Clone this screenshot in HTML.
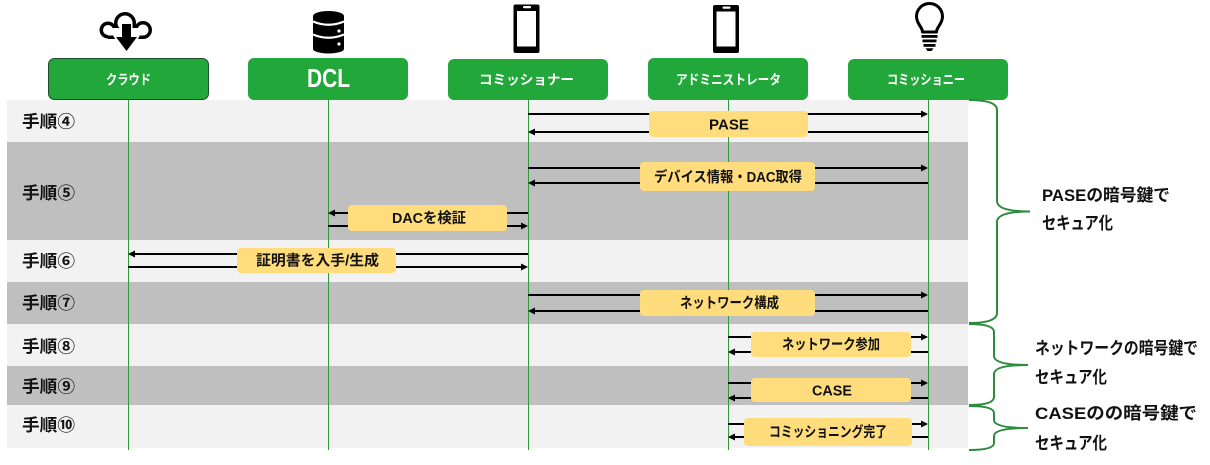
<!DOCTYPE html>
<html><head><meta charset="utf-8">
<style>
html,body{margin:0;padding:0;background:#fff;}
body{width:1210px;height:465px;overflow:hidden;}
svg{display:block;}
text{font-family:"Liberation Sans","Noto Sans CJK JP",sans-serif;font-weight:bold;}
</style></head>
<body>
<svg width="1210" height="465" viewBox="0 0 1210 465" xmlns="http://www.w3.org/2000/svg">
<!-- bands -->
<rect x="7" y="100" width="961" height="42" fill="#f2f2f2"/>
<rect x="7" y="142" width="961" height="98" fill="#bfbfbf"/>
<rect x="7" y="240" width="961" height="42" fill="#f2f2f2"/>
<rect x="7" y="282" width="961" height="42" fill="#bfbfbf"/>
<rect x="7" y="324" width="961" height="42" fill="#f2f2f2"/>
<rect x="7" y="366" width="961" height="39" fill="#bfbfbf"/>
<rect x="7" y="405" width="961" height="43" fill="#f2f2f2"/>

<!-- cloud -->
<g>
<circle cx="108" cy="30" r="8.5" fill="#000"/>
<circle cx="125" cy="23" r="11" fill="#000"/>
<circle cx="143" cy="30" r="9" fill="#000"/>
<rect x="108" y="28" width="35" height="11" fill="#000"/>
<circle cx="108" cy="30" r="5" fill="#fff"/>
<circle cx="125" cy="23" r="7.5" fill="#fff"/>
<circle cx="143" cy="30" r="5.5" fill="#fff"/>
<rect x="108" y="28" width="35" height="7.5" fill="#fff"/>
<path d="M122,23 L131,23 L131,36 L138,36 L126.5,52 L115,36 L122,36 Z" fill="#000" stroke="#fff" stroke-width="3" stroke-linejoin="round"/>
<path d="M122,24 L131,24 L131,37 L137,37 L126.5,51 L116,37 L122,37 Z" fill="#000"/>
</g>
<!-- database -->
<g>
<ellipse cx="328.5" cy="16" rx="15.5" ry="5" fill="#000"/>
<rect x="313" y="16" width="31" height="33" fill="#000"/>
<ellipse cx="328.5" cy="49" rx="15.5" ry="4.5" fill="#000"/>
<path d="M313,21.5 Q328.5,28 344,21.5" stroke="#fff" stroke-width="2.2" fill="none"/>
<path d="M313,34.5 Q328.5,41 344,34.5" stroke="#fff" stroke-width="2.2" fill="none"/>
<circle cx="339" cy="31" r="1.6" fill="#fff"/>
<circle cx="339" cy="44" r="1.6" fill="#fff"/>
</g>
<!-- phones -->
<g>
<rect x="513.5" y="4.5" width="26" height="48.5" rx="2" fill="#000"/>
<rect x="517" y="11" width="19" height="35.5" fill="#fff"/>
<rect x="523" y="6" width="8" height="2.2" rx="1" fill="#fff"/>
</g>
<g>
<rect x="713" y="5" width="26" height="48" rx="2" fill="#000"/>
<rect x="716.5" y="11.5" width="19" height="35" fill="#fff"/>
<rect x="722.5" y="6.5" width="8" height="2.2" rx="1" fill="#fff"/>
</g>
<!-- bulb -->
<g>
<path d="M922.5,32 C922.5,27 916.5,24 916.5,16.5 A13,13 0 0 1 942.5,16.5 C942.5,24 936.5,27 936.5,32 Z" fill="#fff" stroke="#000" stroke-width="3" stroke-linejoin="round"/>
<rect x="921.5" y="35" width="16" height="2.8" fill="#000"/>
<rect x="922.5" y="39.5" width="14" height="2.8" fill="#000"/>
<rect x="923.5" y="44" width="12" height="2.8" fill="#000"/>
<path d="M925.5,48.3 L933.5,48.3 L931.5,51 L927.5,51 Z" fill="#000"/>
</g>

<!-- header boxes -->
<rect x="48.5" y="58.5" width="160" height="41" rx="6" fill="#22a83a" stroke="#1d4d28" stroke-width="1"/>
<rect x="248" y="58" width="160" height="42" rx="6" fill="#22a83a"/>
<rect x="448" y="59" width="160" height="41" rx="6" fill="#22a83a"/>
<rect x="648" y="58" width="160" height="42" rx="6" fill="#22a83a"/>
<rect x="848" y="59" width="160" height="41" rx="6" fill="#22a83a"/>
<g font-size="13.5" fill="#fff">
<text x="106" y="84.5" textLength="45" lengthAdjust="spacingAndGlyphs">クラウド</text>
<text x="479" y="84.5" textLength="95" lengthAdjust="spacingAndGlyphs">コミッショナー</text>
<text x="676" y="84.5" textLength="105" lengthAdjust="spacingAndGlyphs">アドミニストレータ</text>
<text x="887" y="84.5" textLength="78" lengthAdjust="spacingAndGlyphs">コミッショニー</text>
</g>
<text x="307" y="87" font-size="26" fill="#fff" textLength="43" lengthAdjust="spacingAndGlyphs">DCL</text>

<!-- lifelines -->
<g stroke="#2e9a3c" stroke-width="1">
<line x1="128.5" y1="100" x2="128.5" y2="450"/>
<line x1="328.5" y1="100" x2="328.5" y2="450"/>
<line x1="528.5" y1="100" x2="528.5" y2="450"/>
<line x1="728.5" y1="100" x2="728.5" y2="450"/>
<line x1="928.5" y1="100" x2="928.5" y2="450"/>
</g>

<!-- row labels -->
<g font-size="17" fill="#111">
<text x="22" y="127.5" textLength="53" lengthAdjust="spacingAndGlyphs">手順④</text>
<text x="22" y="199" textLength="53" lengthAdjust="spacingAndGlyphs">手順⑤</text>
<text x="22" y="267" textLength="53" lengthAdjust="spacingAndGlyphs">手順⑥</text>
<text x="22" y="309" textLength="53" lengthAdjust="spacingAndGlyphs">手順⑦</text>
<text x="22" y="352.5" textLength="53" lengthAdjust="spacingAndGlyphs">手順⑧</text>
<text x="22" y="392.5" textLength="53" lengthAdjust="spacingAndGlyphs">手順⑨</text>
<text x="22" y="431" textLength="53" lengthAdjust="spacingAndGlyphs">手順⑩</text>
</g>

<!-- arrows -->
<g stroke="#000" stroke-width="2">
<line x1="528" y1="114" x2="922" y2="114"/>
<line x1="928" y1="132" x2="534" y2="132"/>
<line x1="528" y1="168" x2="922" y2="168"/>
<line x1="928" y1="183" x2="534" y2="183"/>
<line x1="528" y1="213" x2="334" y2="213"/>
<line x1="328" y1="226" x2="522" y2="226"/>
<line x1="528" y1="254" x2="134" y2="254"/>
<line x1="128" y1="267" x2="522" y2="267"/>
<line x1="528" y1="295" x2="922" y2="295"/>
<line x1="928" y1="311" x2="534" y2="311"/>
<line x1="728" y1="337" x2="922" y2="337"/>
<line x1="928" y1="352" x2="734" y2="352"/>
<line x1="728" y1="383" x2="922" y2="383"/>
<line x1="928" y1="398" x2="734" y2="398"/>
<line x1="728" y1="424" x2="922" y2="424"/>
<line x1="928" y1="437" x2="734" y2="437"/>
</g>
<g fill="#000">
<path d="M928,114 l-7,-3.5 v7 z"/>
<path d="M928,168 l-7,-3.5 v7 z"/>
<path d="M528,226 l-7,-3.5 v7 z"/>
<path d="M528,267 l-7,-3.5 v7 z"/>
<path d="M928,295 l-7,-3.5 v7 z"/>
<path d="M928,337 l-7,-3.5 v7 z"/>
<path d="M928,383 l-7,-3.5 v7 z"/>
<path d="M928,424 l-7,-3.5 v7 z"/>
<path d="M528,132 l7,-3.5 v7 z"/>
<path d="M528,183 l7,-3.5 v7 z"/>
<path d="M328,213 l7,-3.5 v7 z"/>
<path d="M128,254 l7,-3.5 v7 z"/>
<path d="M528,311 l7,-3.5 v7 z"/>
<path d="M728,352 l7,-3.5 v7 z"/>
<path d="M728,398 l7,-3.5 v7 z"/>
<path d="M728,437 l7,-3.5 v7 z"/>
</g>

<!-- label boxes -->
<g fill="#ffdc7c">
<rect x="649" y="111" width="159" height="26" rx="4"/>
<rect x="640" y="162" width="175" height="29" rx="4"/>
<rect x="348" y="205" width="159" height="26" rx="4"/>
<rect x="237" y="248" width="159" height="25" rx="4"/>
<rect x="640" y="290" width="175" height="26" rx="4"/>
<rect x="751" y="332" width="160" height="25" rx="4"/>
<rect x="751" y="378" width="160" height="24" rx="4"/>
<rect x="744" y="418" width="168" height="28" rx="4"/>
</g>
<g font-size="14.5" fill="#111">
<text x="709" y="129.5" textLength="40" lengthAdjust="spacingAndGlyphs">PASE</text>
<text x="654" y="182" textLength="148" lengthAdjust="spacingAndGlyphs">デバイス情報・DAC取得</text>
<text x="392" y="223" textLength="74" lengthAdjust="spacingAndGlyphs">DACを検証</text>
<text x="256" y="265.5" textLength="123" lengthAdjust="spacingAndGlyphs">証明書を入手/生成</text>
<text x="680" y="308" textLength="99" lengthAdjust="spacingAndGlyphs">ネットワーク構成</text>
<text x="782" y="349.5" textLength="98" lengthAdjust="spacingAndGlyphs">ネットワーク参加</text>
<text x="812" y="395.5" textLength="40" lengthAdjust="spacingAndGlyphs">CASE</text>
<text x="769" y="437" textLength="118" lengthAdjust="spacingAndGlyphs">コミッショニング完了</text>
</g>

<!-- braces -->
<g stroke="#2e8b3e" stroke-width="2" fill="none">
<path d="M969,100 Q997,100 997,110 L997,201 Q997,211.5 1030,211.5 Q997,211.5 997,222 L997,313 Q997,323 969,323"/>
<path d="M969,324 Q994,324 994,332 L994,356 Q994,365 1028,365 Q994,365 994,374 L994,397 Q994,405 969,405"/>
<path d="M969,406 Q994,406 994,413 L994,420 Q994,428 1028,428 Q994,428 994,436 L994,443 Q994,450 969,450"/>
</g>

<!-- right texts -->
<g font-size="17" fill="#111">
<text x="1042" y="201" textLength="128" lengthAdjust="spacingAndGlyphs">PASEの暗号鍵で</text>
<text x="1042" y="229" textLength="71" lengthAdjust="spacingAndGlyphs">セキュア化</text>
<text x="1035" y="354" textLength="163" lengthAdjust="spacingAndGlyphs">ネットワークの暗号鍵で</text>
<text x="1035" y="383" textLength="72" lengthAdjust="spacingAndGlyphs">セキュア化</text>
<text x="1035" y="419" textLength="162" lengthAdjust="spacingAndGlyphs">CASEのの暗号鍵で</text>
<text x="1035" y="449" textLength="72" lengthAdjust="spacingAndGlyphs">セキュア化</text>
</g>
</svg>
</body></html>
